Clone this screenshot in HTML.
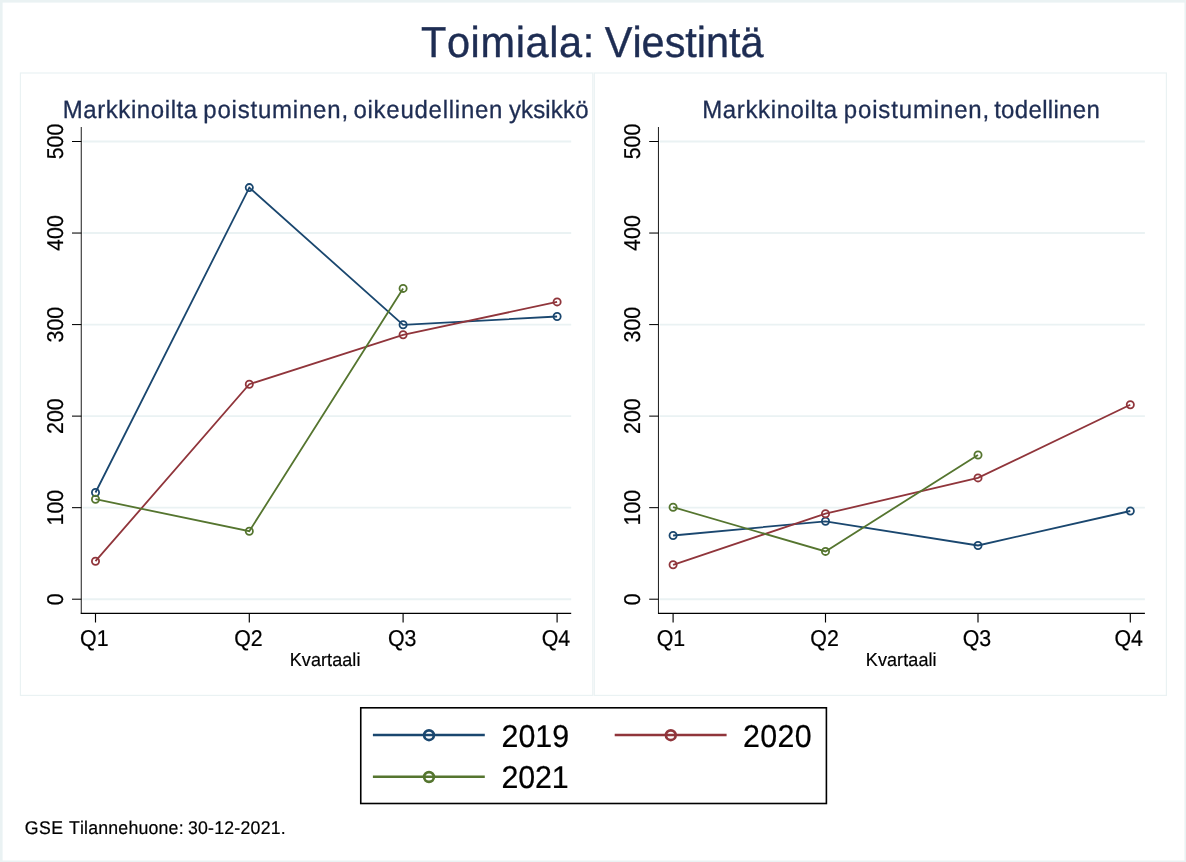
<!DOCTYPE html>
<html lang="fi"><head><meta charset="utf-8"><title>Toimiala: Viestintä</title>
<style>
html,body{margin:0;padding:0;background:#fff;}
body{width:1186px;height:862px;overflow:hidden;position:relative;}
svg{position:absolute;left:0;top:0;display:block;}
text{font-family:"Liberation Sans",sans-serif;text-rendering:geometricPrecision;font-kerning:none;fill:#000;stroke:#000;stroke-width:0.2px;}
.title{font-size:41.5px;fill:#1e2d53;stroke:#1e2d53;stroke-width:0.35px;}
.sub{font-size:24px;fill:#1e2d53;stroke:#1e2d53;stroke-width:0.3px;}
.ax{font-size:22px;}
.kv{font-size:18px;}
.lg{font-size:30.4px;}
.note{font-size:17.7px;}
</style></head><body>
<svg width="1186" height="862" viewBox="0 0 1186 862">
<rect x="0" y="0" width="1186" height="862" fill="#fff"/>
<rect x="0" y="0" width="2.6" height="862" fill="#eaf2f3"/>
<rect x="0" y="0" width="1186" height="2.6" fill="#eaf2f3"/>
<rect x="1184.45" y="0" width="1.55" height="862" fill="#eaf2f3"/>
<rect x="0" y="860.45" width="1186" height="1.55" fill="#eaf2f3"/>
<text class="title" transform="translate(0,57.2) scale(1,1.041)"><tspan x="420.91" textLength="173.39" lengthAdjust="spacing">Toimiala:</tspan> <tspan x="604.75" textLength="158.95" lengthAdjust="spacing">Viestintä</tspan></text>
<rect x="20.4" y="73" width="572.4" height="622.4" fill="none" stroke="#eaf2f3" stroke-width="1.2"/>
<line x1="82.60000000000001" x2="571.2" y1="599.20" y2="599.20" stroke="#eaf2f3" stroke-width="1.9"/>
<line x1="82.60000000000001" x2="571.2" y1="507.66" y2="507.66" stroke="#eaf2f3" stroke-width="1.9"/>
<line x1="82.60000000000001" x2="571.2" y1="416.12" y2="416.12" stroke="#eaf2f3" stroke-width="1.9"/>
<line x1="82.60000000000001" x2="571.2" y1="324.58" y2="324.58" stroke="#eaf2f3" stroke-width="1.9"/>
<line x1="82.60000000000001" x2="571.2" y1="233.04" y2="233.04" stroke="#eaf2f3" stroke-width="1.9"/>
<line x1="82.60000000000001" x2="571.2" y1="141.50" y2="141.50" stroke="#eaf2f3" stroke-width="1.9"/>
<polyline points="95.5,492.5 249.3,187.6 403.1,324.8 557.1,316.5" fill="none" stroke="#1a476f" stroke-width="1.8" stroke-linejoin="miter"/>
<circle cx="95.5" cy="492.5" r="3.6" fill="none" stroke="#1a476f" stroke-width="1.8"/>
<circle cx="249.3" cy="187.6" r="3.6" fill="none" stroke="#1a476f" stroke-width="1.8"/>
<circle cx="403.1" cy="324.8" r="3.6" fill="none" stroke="#1a476f" stroke-width="1.8"/>
<circle cx="557.1" cy="316.5" r="3.6" fill="none" stroke="#1a476f" stroke-width="1.8"/>
<polyline points="95.5,561.2 249.3,384.2 403.1,334.8 557.1,301.9" fill="none" stroke="#90353b" stroke-width="1.8" stroke-linejoin="miter"/>
<circle cx="95.5" cy="561.2" r="3.6" fill="none" stroke="#90353b" stroke-width="1.8"/>
<circle cx="249.3" cy="384.2" r="3.6" fill="none" stroke="#90353b" stroke-width="1.8"/>
<circle cx="403.1" cy="334.8" r="3.6" fill="none" stroke="#90353b" stroke-width="1.8"/>
<circle cx="557.1" cy="301.9" r="3.6" fill="none" stroke="#90353b" stroke-width="1.8"/>
<polyline points="95.5,499.2 249.3,531.2 403.1,288.4" fill="none" stroke="#55752f" stroke-width="1.8" stroke-linejoin="miter"/>
<circle cx="95.5" cy="499.2" r="3.6" fill="none" stroke="#55752f" stroke-width="1.8"/>
<circle cx="249.3" cy="531.2" r="3.6" fill="none" stroke="#55752f" stroke-width="1.8"/>
<circle cx="403.1" cy="288.4" r="3.6" fill="none" stroke="#55752f" stroke-width="1.8"/>
<line x1="81.25" x2="81.25" y1="127" y2="613.9" stroke="#000" stroke-width="0.9"/>
<line x1="80.80000000000001" x2="571.2" y1="613.4" y2="613.4" stroke="#000" stroke-width="1.2"/>
<line x1="72.0" x2="81.4" y1="599.20" y2="599.20" stroke="#000" stroke-width="1.05"/>
<text class="ax" text-anchor="middle" transform="translate(62.5,599.20) rotate(-90) scale(0.972,1.041)">0</text>
<line x1="72.0" x2="81.4" y1="507.66" y2="507.66" stroke="#000" stroke-width="1.05"/>
<text class="ax" text-anchor="middle" transform="translate(62.5,507.66) rotate(-90) scale(0.972,1.041)">100</text>
<line x1="72.0" x2="81.4" y1="416.12" y2="416.12" stroke="#000" stroke-width="1.05"/>
<text class="ax" text-anchor="middle" transform="translate(62.5,416.12) rotate(-90) scale(0.972,1.041)">200</text>
<line x1="72.0" x2="81.4" y1="324.58" y2="324.58" stroke="#000" stroke-width="1.05"/>
<text class="ax" text-anchor="middle" transform="translate(62.5,324.58) rotate(-90) scale(0.972,1.041)">300</text>
<line x1="72.0" x2="81.4" y1="233.04" y2="233.04" stroke="#000" stroke-width="1.05"/>
<text class="ax" text-anchor="middle" transform="translate(62.5,233.04) rotate(-90) scale(0.972,1.041)">400</text>
<line x1="72.0" x2="81.4" y1="141.50" y2="141.50" stroke="#000" stroke-width="1.05"/>
<text class="ax" text-anchor="middle" transform="translate(62.5,141.50) rotate(-90) scale(0.972,1.041)">500</text>
<line x1="95.5" x2="95.5" y1="613.3" y2="622.5" stroke="#000" stroke-width="1.15"/>
<text class="ax" text-anchor="middle" transform="translate(94.3,646) scale(0.972,1.041)">Q1</text>
<line x1="249.3" x2="249.3" y1="613.3" y2="622.5" stroke="#000" stroke-width="1.15"/>
<text class="ax" text-anchor="middle" transform="translate(248.4,646) scale(0.972,1.041)">Q2</text>
<line x1="403.1" x2="403.1" y1="613.3" y2="622.5" stroke="#000" stroke-width="1.15"/>
<text class="ax" text-anchor="middle" transform="translate(402.2,646) scale(0.972,1.041)">Q3</text>
<line x1="557.1" x2="557.1" y1="613.3" y2="622.5" stroke="#000" stroke-width="1.15"/>
<text class="ax" text-anchor="middle" transform="translate(555.9,646) scale(0.972,1.041)">Q4</text>
<text class="kv" transform="translate(0,665.6) scale(1,1.041)"><tspan x="289.71" textLength="70.68" lengthAdjust="spacing">Kvartaali</tspan></text>
<text class="sub" transform="translate(0,117.9) scale(1,1.041)"><tspan x="62.68" textLength="134.49" lengthAdjust="spacing">Markkinoilta</tspan> <tspan x="203.25" textLength="144.8" lengthAdjust="spacing">poistuminen,</tspan> <tspan x="353.45" textLength="149.01" lengthAdjust="spacing">oikeudellinen</tspan> <tspan x="508.93" textLength="79.56" lengthAdjust="spacing">yksikkö</tspan></text>
<rect x="594.3" y="73" width="572.1" height="622.4" fill="none" stroke="#eaf2f3" stroke-width="1.2"/>
<line x1="659.8000000000001" x2="1144.9" y1="599.20" y2="599.20" stroke="#eaf2f3" stroke-width="1.9"/>
<line x1="659.8000000000001" x2="1144.9" y1="507.66" y2="507.66" stroke="#eaf2f3" stroke-width="1.9"/>
<line x1="659.8000000000001" x2="1144.9" y1="416.12" y2="416.12" stroke="#eaf2f3" stroke-width="1.9"/>
<line x1="659.8000000000001" x2="1144.9" y1="324.58" y2="324.58" stroke="#eaf2f3" stroke-width="1.9"/>
<line x1="659.8000000000001" x2="1144.9" y1="233.04" y2="233.04" stroke="#eaf2f3" stroke-width="1.9"/>
<line x1="659.8000000000001" x2="1144.9" y1="141.50" y2="141.50" stroke="#eaf2f3" stroke-width="1.9"/>
<polyline points="673.1,535.5 825.5,521.3 978.0,545.5 1130.3,511.0" fill="none" stroke="#1a476f" stroke-width="1.8" stroke-linejoin="miter"/>
<circle cx="673.1" cy="535.5" r="3.6" fill="none" stroke="#1a476f" stroke-width="1.8"/>
<circle cx="825.5" cy="521.3" r="3.6" fill="none" stroke="#1a476f" stroke-width="1.8"/>
<circle cx="978.0" cy="545.5" r="3.6" fill="none" stroke="#1a476f" stroke-width="1.8"/>
<circle cx="1130.3" cy="511.0" r="3.6" fill="none" stroke="#1a476f" stroke-width="1.8"/>
<polyline points="673.1,564.8 825.5,513.7 978.0,477.9 1130.3,404.7" fill="none" stroke="#90353b" stroke-width="1.8" stroke-linejoin="miter"/>
<circle cx="673.1" cy="564.8" r="3.6" fill="none" stroke="#90353b" stroke-width="1.8"/>
<circle cx="825.5" cy="513.7" r="3.6" fill="none" stroke="#90353b" stroke-width="1.8"/>
<circle cx="978.0" cy="477.9" r="3.6" fill="none" stroke="#90353b" stroke-width="1.8"/>
<circle cx="1130.3" cy="404.7" r="3.6" fill="none" stroke="#90353b" stroke-width="1.8"/>
<polyline points="673.1,507.2 825.5,551.4 978.0,455.0" fill="none" stroke="#55752f" stroke-width="1.8" stroke-linejoin="miter"/>
<circle cx="673.1" cy="507.2" r="3.6" fill="none" stroke="#55752f" stroke-width="1.8"/>
<circle cx="825.5" cy="551.4" r="3.6" fill="none" stroke="#55752f" stroke-width="1.8"/>
<circle cx="978.0" cy="455.0" r="3.6" fill="none" stroke="#55752f" stroke-width="1.8"/>
<line x1="658.45" x2="658.45" y1="127" y2="613.9" stroke="#000" stroke-width="0.9"/>
<line x1="658.0" x2="1144.9" y1="613.4" y2="613.4" stroke="#000" stroke-width="1.2"/>
<line x1="649.2" x2="658.6" y1="599.20" y2="599.20" stroke="#000" stroke-width="1.05"/>
<text class="ax" text-anchor="middle" transform="translate(639.7,599.20) rotate(-90) scale(0.972,1.041)">0</text>
<line x1="649.2" x2="658.6" y1="507.66" y2="507.66" stroke="#000" stroke-width="1.05"/>
<text class="ax" text-anchor="middle" transform="translate(639.7,507.66) rotate(-90) scale(0.972,1.041)">100</text>
<line x1="649.2" x2="658.6" y1="416.12" y2="416.12" stroke="#000" stroke-width="1.05"/>
<text class="ax" text-anchor="middle" transform="translate(639.7,416.12) rotate(-90) scale(0.972,1.041)">200</text>
<line x1="649.2" x2="658.6" y1="324.58" y2="324.58" stroke="#000" stroke-width="1.05"/>
<text class="ax" text-anchor="middle" transform="translate(639.7,324.58) rotate(-90) scale(0.972,1.041)">300</text>
<line x1="649.2" x2="658.6" y1="233.04" y2="233.04" stroke="#000" stroke-width="1.05"/>
<text class="ax" text-anchor="middle" transform="translate(639.7,233.04) rotate(-90) scale(0.972,1.041)">400</text>
<line x1="649.2" x2="658.6" y1="141.50" y2="141.50" stroke="#000" stroke-width="1.05"/>
<text class="ax" text-anchor="middle" transform="translate(639.7,141.50) rotate(-90) scale(0.972,1.041)">500</text>
<line x1="673.1" x2="673.1" y1="613.3" y2="622.5" stroke="#000" stroke-width="1.15"/>
<text class="ax" text-anchor="middle" transform="translate(671.0,646) scale(0.972,1.041)">Q1</text>
<line x1="825.5" x2="825.5" y1="613.3" y2="622.5" stroke="#000" stroke-width="1.15"/>
<text class="ax" text-anchor="middle" transform="translate(824.6,646) scale(0.972,1.041)">Q2</text>
<line x1="978.0" x2="978.0" y1="613.3" y2="622.5" stroke="#000" stroke-width="1.15"/>
<text class="ax" text-anchor="middle" transform="translate(976.9,646) scale(0.972,1.041)">Q3</text>
<line x1="1130.3" x2="1130.3" y1="613.3" y2="622.5" stroke="#000" stroke-width="1.15"/>
<text class="ax" text-anchor="middle" transform="translate(1128.7,646) scale(0.972,1.041)">Q4</text>
<text class="kv" transform="translate(0,665.6) scale(1,1.041)"><tspan x="865.86" textLength="70.7" lengthAdjust="spacing">Kvartaali</tspan></text>
<text class="sub" transform="translate(0,117.9) scale(1,1.041)"><tspan x="702.16" textLength="135.04" lengthAdjust="spacing">Markkinoilta</tspan> <tspan x="843.77" textLength="145.43" lengthAdjust="spacing">poistuminen,</tspan> <tspan x="994.14" textLength="105.64" lengthAdjust="spacing">todellinen</tspan></text>
<rect x="360.75" y="707.8" width="465.65" height="95.7" fill="#fff" stroke="#000" stroke-width="1.6"/>
<line x1="372.9" x2="484.79999999999995" y1="734.9" y2="734.9" stroke="#1a476f" stroke-width="2.5"/>
<circle cx="429.0" cy="735.1999999999999" r="4.85" fill="none" stroke="#1a476f" stroke-width="2.7"/>
<text class="lg" transform="translate(0,746.6) scale(1,1.041)"><tspan x="501.46" textLength="67.7" lengthAdjust="spacing">2019</tspan></text>
<line x1="614.7" x2="726.6" y1="734.9" y2="734.9" stroke="#90353b" stroke-width="2.5"/>
<circle cx="670.8000000000001" cy="735.1999999999999" r="4.85" fill="none" stroke="#90353b" stroke-width="2.7"/>
<text class="lg" transform="translate(0,746.6) scale(1,1.041)"><tspan x="743.1" textLength="68.52" lengthAdjust="spacing">2020</tspan></text>
<line x1="372.9" x2="484.79999999999995" y1="776.7" y2="776.7" stroke="#55752f" stroke-width="2.5"/>
<circle cx="429.0" cy="777.0" r="4.85" fill="none" stroke="#55752f" stroke-width="2.7"/>
<text class="lg" transform="translate(0,788.4) scale(1,1.041)"><tspan x="501.46" textLength="67.25" lengthAdjust="spacing">2021</tspan></text>
<text class="note" transform="translate(0,833.7) scale(1,1.041)"><tspan x="24.73" textLength="38.35" lengthAdjust="spacing">GSE</tspan> <tspan x="68.91" textLength="114.65" lengthAdjust="spacing">Tilannehuone:</tspan> <tspan x="187.91" textLength="97.81" lengthAdjust="spacing">30-12-2021.</tspan></text>
</svg>
</body></html>
